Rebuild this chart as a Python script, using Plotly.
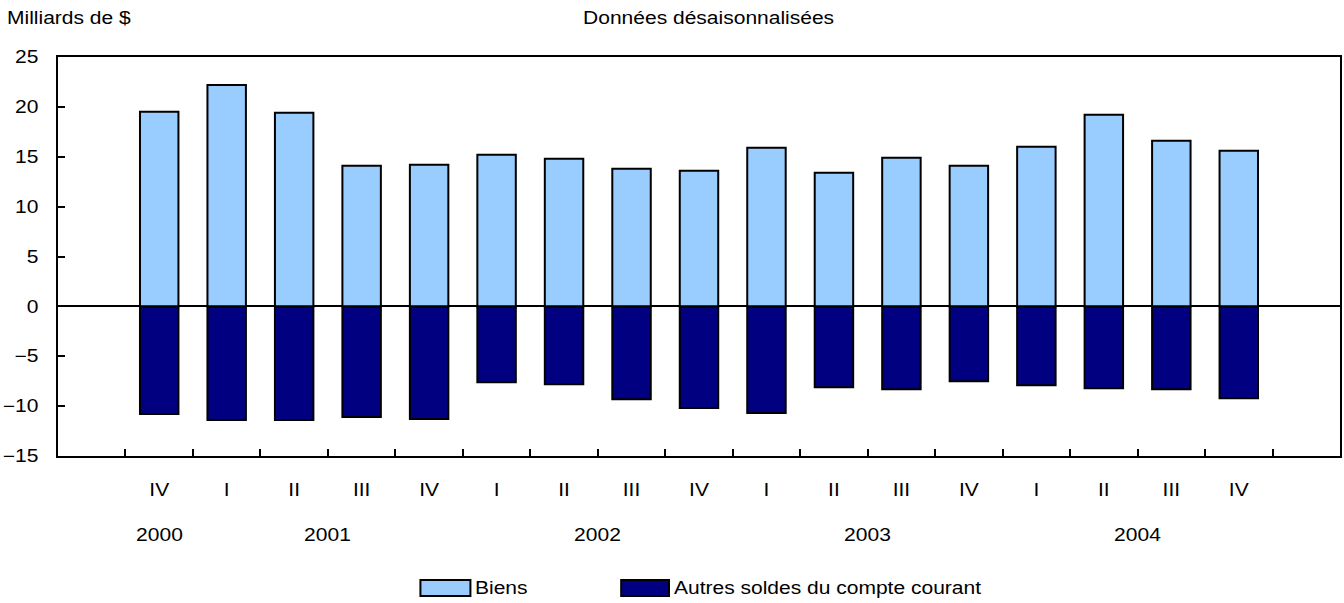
import plotly.graph_objects as go

# ---- data ----
quarters = ["IV", "I", "II", "III", "IV", "I", "II", "III", "IV",
            "I", "II", "III", "IV", "I", "II", "III", "IV"]
years = ["2000", "2001", "2001", "2001", "2001", "2002", "2002", "2002", "2002",
         "2003", "2003", "2003", "2003", "2004", "2004", "2004", "2004"]
biens = [19.5, 22.2, 19.4, 14.1, 14.2, 15.2, 14.8, 13.8, 13.6,
         15.9, 13.4, 14.9, 14.1, 16.0, 19.2, 16.6, 15.6]
autres = [-10.8, -11.4, -11.4, -11.1, -11.3, -7.6, -7.8, -9.3, -10.2,
          -10.7, -8.1, -8.3, -7.5, -7.9, -8.2, -8.3, -9.2]
year_labels = ["2000", "2001", "2002", "2003", "2004"]

# ---- styles ----
FONT = "Liberation Sans, Arial, sans-serif"
FS = 17.5
LIGHT = "#99CCFF"
DARK = "#000080"
STRETCH = 1.2

pos = list(range(1, len(quarters) + 1))
bounds = [p - 0.5 for p in pos] + [pos[-1] + 0.5]

fig = go.Figure()
fig.add_trace(go.Bar(x=pos, y=biens, name="Biens", width=0.57,
                     marker=dict(color=LIGHT, line=dict(color="black", width=2)),
                     showlegend=False))
fig.add_trace(go.Bar(x=pos, y=autres, name="Autres soldes du compte courant", width=0.57,
                     marker=dict(color=DARK, line=dict(color="black", width=2)),
                     showlegend=False))
# invisible trace to activate xaxis2 (boundary tick marks)
fig.add_trace(go.Scatter(x=[bounds[0]], y=[0], xaxis="x2", mode="markers",
                         marker=dict(opacity=0), showlegend=False, hoverinfo="skip"))

xr = [-0.5, len(quarters) + 1.5]
fig.update_layout(
    width=1344, height=603,
    margin=dict(l=58, r=2, t=57, b=147),
    paper_bgcolor="white", plot_bgcolor="white",
    barmode="relative",
    font=dict(family=FONT, size=FS, color="black"),
    xaxis=dict(range=xr, tickvals=pos, ticktext=quarters, ticks="",
               showline=True, linecolor="black", linewidth=2, mirror=True,
               showgrid=False, zeroline=False, ticklabelstandoff=17,
               tickfont=dict(family=FONT, size=FS)),
    xaxis2=dict(range=xr, overlaying="x", anchor="y", side="bottom",
                tickvals=bounds, ticks="inside", ticklen=7, tickwidth=2,
                tickcolor="black", showticklabels=False, showline=False,
                showgrid=False, zeroline=False),
    yaxis=dict(range=[-15, 25], dtick=5, tick0=0, ticks="inside", ticklen=7,
               tickwidth=2, tickcolor="black", showline=True, linecolor="black",
               linewidth=2, mirror=True, showgrid=False, zeroline=True,
               zerolinecolor="black", zerolinewidth=2, ticklabelstandoff=14,
               tickfont=dict(family=FONT, size=FS)),
)

# year labels centred under their quarters
for yl in year_labels:
    xs = [p for p, y in zip(pos, years) if y == yl]
    fig.add_annotation(x=sum(xs) / len(xs), xref="x", y=-0.198, yref="paper",
                       text=yl, showarrow=False, yanchor="middle",
                       font=dict(family=FONT, size=FS))

fig.add_annotation(x=-0.0413, xref="paper", y=1.098, yref="paper",
                   text="Milliards de $", showarrow=False, xanchor="left",
                   yanchor="middle", font=dict(family=FONT, size=FS))
fig.add_annotation(x=0.5074, xref="paper", y=1.098, yref="paper",
                   text="Données désaisonnalisées", showarrow=False,
                   xanchor="center", yanchor="middle", font=dict(family=FONT, size=FS))

# legend (drawn manually to mimic wide swatches)
legend_items = [("Biens", LIGHT, 0.2827, 0.3217),
                ("Autres soldes du compte courant", DARK, 0.4393, 0.4766)]
for name, col, x0, x1 in legend_items:
    fig.add_shape(type="rect", xref="paper", yref="paper", x0=x0, x1=x1,
                  y0=-0.3509, y1=-0.3108, fillcolor=col,
                  line=dict(color="black", width=2))
    fig.add_annotation(x=x1, xref="paper", y=-0.3308, yref="paper", xshift=3,
                       text=name, showarrow=False, xanchor="left", yanchor="middle",
                       font=dict(family=FONT, size=FS))

left_texts = ["Milliards de $"] + [n for n, *_ in legend_items]

# the reference text is horizontally wider than regular Arial: widen glyphs a little,
# keeping the left edge of left-anchored labels in place
post = """
document.body.style.margin='0';
document.body.style.overflow='hidden';
var gd = document.getElementById('{plot_id}');
var LEFT = %s;
var K = %s;
function stretchText(){
  gd.querySelectorAll('svg text').forEach(function(t){
    if (t.getAttribute('data-st')) return;
    var L = t.getComputedTextLength();
    if (L > 0) {
      t.setAttribute('textLength', (L * K).toFixed(2));
      t.setAttribute('lengthAdjust', 'spacingAndGlyphs');
      if (LEFT.indexOf(t.textContent) >= 0) {
        var x = parseFloat(t.getAttribute('x') || '0');
        t.setAttribute('x', (x + L * (K - 1) / 2).toFixed(2));
      }
      t.setAttribute('data-st', '1');
    }
  });
}
stretchText();
gd.on('plotly_afterplot', stretchText);
setTimeout(stretchText, 30);
""" % (str(left_texts).replace("'", '"'), STRETCH)

fig.write_html("out.html", config={"displayModeBar": False}, post_script=post)
